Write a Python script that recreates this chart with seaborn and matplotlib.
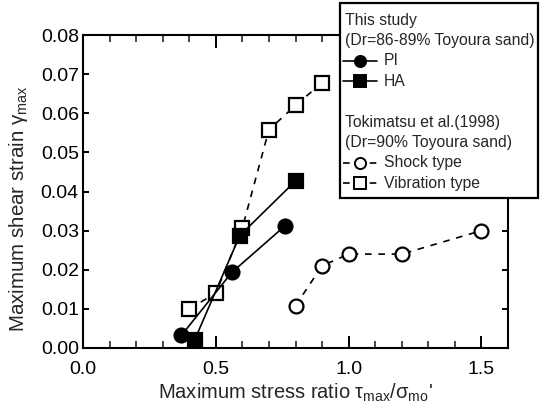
import matplotlib
matplotlib.use("Agg")
import matplotlib.pyplot as plt
import seaborn as sns
import pandas as pd
from matplotlib.lines import Line2D
from matplotlib.patches import Rectangle
from matplotlib.ticker import MultipleLocator, FormatStrFormatter

# ---- data ----
pi_x = [0.37, 0.56, 0.76]
pi_y = [0.0032, 0.0193, 0.0312]
ha_x = [0.42, 0.59, 0.80]
ha_y = [0.0020, 0.0287, 0.0427]
vib_x = [0.40, 0.50, 0.60, 0.70, 0.80, 0.90]
vib_y = [0.0100, 0.0140, 0.0307, 0.0558, 0.0620, 0.0678]
shock_x = [0.80, 0.90, 1.00, 1.20, 1.50]
shock_y = [0.0108, 0.0210, 0.0240, 0.0240, 0.0300]

legend_rows = [
    ("header", "This study"),
    ("header", "(Dr=86-89% Toyoura sand)"),
    ("PI", "PI"),
    ("HA", "HA"),
    ("blank", ""),
    ("header", "Tokimatsu et al.(1998)"),
    ("header", "(Dr=90% Toyoura sand)"),
    ("Shock", "Shock type"),
    ("Vibration", "Vibration type"),
]

sns.set_theme(style="ticks")
plt.rcParams["font.family"] = ["Liberation Sans", "DejaVu Sans"]
plt.rcParams["mathtext.fontset"] = "custom"
plt.rcParams["mathtext.rm"] = "Liberation Sans"
plt.rcParams["mathtext.it"] = "Liberation Sans"
plt.rcParams["mathtext.sf"] = "Liberation Sans"

fig = plt.figure(figsize=(5.54, 4.16), dpi=100)
W, H = 554, 416
ax = fig.add_axes([83 / W, 1 - 348 / H, (508 - 83) / W, (348 - 35) / H])

dash = (0, (4, 4))
styles = {
    "PI": dict(marker="o", markerfacecolor="black", linestyle="-"),
    "HA": dict(marker="s", markerfacecolor="black", linestyle="-"),
    "Shock": dict(marker="o", markerfacecolor="white", linestyle=dash),
    "Vibration": dict(marker="s", markerfacecolor="white", linestyle=dash),
}

series = {
    "Vibration": (vib_x, vib_y),
    "Shock": (shock_x, shock_y),
    "HA": (ha_x, ha_y),
    "PI": (pi_x, pi_y),
}
for name, (xs, ys) in series.items():
    df = pd.DataFrame({"x": xs, "y": ys})
    st = styles[name]
    sns.lineplot(data=df, x="x", y="y", ax=ax, color="black", linewidth=1.2,
                 marker=st["marker"], markersize=10,
                 markerfacecolor=st["markerfacecolor"], markeredgecolor="black",
                 markeredgewidth=1.6, linestyle=st["linestyle"], estimator=None,
                 clip_on=False, zorder=3)

ax.set_xlim(0, 1.6)
ax.set_ylim(0, 0.08)
ax.xaxis.set_major_locator(MultipleLocator(0.5))
ax.xaxis.set_minor_locator(MultipleLocator(0.1))
ax.yaxis.set_major_locator(MultipleLocator(0.01))
ax.xaxis.set_major_formatter(FormatStrFormatter("%.1f"))
ax.yaxis.set_major_formatter(FormatStrFormatter("%.2f"))
ax.tick_params(axis="x", which="major", direction="in", length=9, width=1.4, top=True, labelsize=14, pad=9, colors="black")
ax.tick_params(axis="x", which="minor", direction="in", length=5, width=1.2, top=True)
ax.tick_params(axis="y", which="major", direction="in", length=4.5, width=1.4, right=True, labelsize=14, pad=3, colors="black")
for s in ax.spines.values():
    s.set_linewidth(1.5)
    s.set_color("black")

ax.set_xlabel(r"Maximum stress ratio $\tau_{\rm max}/\sigma_{\rm mo}$'", fontsize=14.5, labelpad=3)
ax.set_ylabel(r"Maximum shear strain $\gamma_{\rm max}$", fontsize=14.8)
ax.yaxis.set_label_coords(-0.125, 0.445)

# ---- legend box ----
x0, x1, ytop, ybot = 340, 538, 3, 198
fig.add_artist(Rectangle((x0 / W, 1 - ybot / H), (x1 - x0) / W, (ybot - ytop) / H,
                         transform=fig.transFigure, facecolor="white", edgecolor="black",
                         linewidth=1.6, zorder=10))
row_y0, row_dy = 20, 20.4
fs_leg = 11.3
for i, (kind, label) in enumerate(legend_rows):
    yy = 1 - (row_y0 + i * row_dy) / H
    if kind == "header":
        fig.text(345 / W, yy, label, fontsize=fs_leg, va="center", ha="left", zorder=11)
    elif kind in styles:
        st = styles[kind]
        fig.add_artist(Line2D([343 / W, 377 / W], [yy, yy], transform=fig.transFigure,
                              color="black", linewidth=1.2, linestyle=st["linestyle"], zorder=11))
        fig.add_artist(Line2D([360 / W], [yy], transform=fig.transFigure, color="black",
                              marker=st["marker"], markersize=8, markerfacecolor=st["markerfacecolor"],
                              markeredgecolor="black", markeredgewidth=1.4, linestyle="none", zorder=12))
        fig.text(384 / W, yy, label, fontsize=fs_leg, va="center", ha="left", zorder=11)

fig.savefig("out.png", dpi=100)
